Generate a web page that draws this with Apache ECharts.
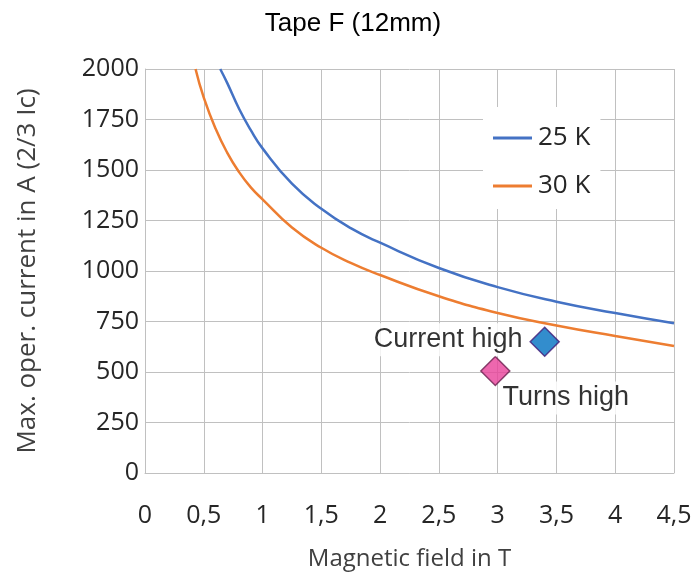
<!DOCTYPE html>
<html>
<head>
<meta charset="utf-8">
<script src="https://cdn.jsdelivr.net/npm/echarts@6/dist/echarts.min.js"></script>
<style>
  html, body { margin: 0; padding: 0; background: #fff; }
  #chart { width: 696px; height: 577px; }
</style>
</head>
<body>
<div id="chart"></div>
<script>
// magnetic field (T) and operating current (A)
const field25 = [0.64, 0.7, 0.8, 0.9, 1.0, 1.25, 1.5, 1.75, 2.0, 2.5, 3.0, 3.5, 4.0, 4.5];
const current25 = [2000, 1930, 1803, 1697, 1607, 1432, 1308, 1212, 1140, 1015, 920, 848, 792, 741];
const field30 = [0.43, 0.5, 0.6, 0.7, 0.8, 0.9, 1.0, 1.25, 1.5, 1.75, 2.0, 2.5, 3.0, 3.5, 4.0, 4.5];
const current30 = [2000, 1858, 1705, 1585, 1490, 1414, 1355, 1215, 1115, 1040, 980, 875, 792, 730, 678, 629];
const currentHigh = [3.4, 650];
const turnsHigh = [2.98, 505];
const seriesNames = ["25 K", "30 K"];

const axisFont = "'Open Sans', sans-serif";
const gridColor = "#c0c0c0";

const chart = echarts.init(document.getElementById("chart"));

const toPairs = (xs, ys) => xs.map((x, i) => [x, ys[i]]);

chart.setOption({
  animation: false,
  title: {
    text: "Tape F (12mm)",
    left: 348,
    textAlign: "center",
    top: 6,
    textStyle: {
      fontFamily: "'Liberation Sans', Arial, sans-serif",
      fontSize: 26,
      fontWeight: "normal",
      color: "#000",
    },
  },
  grid: {
    left: 145,
    right: 22,
    top: 69,
    bottom: 104,
  },
  legend: {
    data: seriesNames,
    orient: "vertical",
    left: 483,
    top: 107,
    backgroundColor: "#fff",
    padding: [18, 10, 10, 10],
    itemGap: 22,
    icon: "rect",
    itemWidth: 39,
    itemHeight: 3,
    textStyle: {
      fontFamily: axisFont,
      fontSize: 26,
      color: "#262626",
      padding: [0, 0, 0, 1],
    },
  },
  xAxis: {
    type: "value",
    min: 0,
    max: 4.5,
    interval: 0.5,
    name: "Magnetic field in T",
    nameLocation: "middle",
    nameGap: 74,
    nameTextStyle: {
      fontFamily: axisFont,
      fontSize: 24,
      color: "#404040",
    },
    axisLine: { show: true, lineStyle: { color: gridColor } },
    axisTick: { show: false },
    axisLabel: {
      margin: 30,
      fontFamily: axisFont,
      fontSize: 25,
      color: "#262626",
      formatter: (v) => String(v).replace(".", ","),
    },
    splitLine: { show: true, lineStyle: { color: gridColor } },
  },
  yAxis: {
    type: "value",
    min: 0,
    max: 2000,
    interval: 250,
    name: "Max. oper. current in A (2/3 Ic)",
    nameLocation: "middle",
    nameGap: 104,
    nameTextStyle: {
      fontFamily: axisFont,
      fontSize: 26,
      color: "#404040",
    },
    axisLine: { show: true, lineStyle: { color: gridColor } },
    axisTick: { show: false },
    axisLabel: {
      margin: 6,
      fontFamily: axisFont,
      fontSize: 25,
      color: "#262626",
      formatter: (v) => String(v),
    },
    splitLine: { show: true, lineStyle: { color: gridColor } },
  },
  series: [
    {
      name: seriesNames[0],
      type: "line",
      smooth: true,
      symbol: "none",
      data: toPairs(field25, current25),
      lineStyle: { color: "#4472c4", width: 2.5 },
      itemStyle: { color: "#4472c4" },
    },
    {
      name: seriesNames[1],
      type: "line",
      smooth: true,
      symbol: "none",
      data: toPairs(field30, current30),
      lineStyle: { color: "#ed7d31", width: 2.5 },
      itemStyle: { color: "#ed7d31" },
    },
    {
      name: "Current high",
      type: "scatter",
      symbol: "diamond",
      symbolSize: 29,
      data: [currentHigh],
      itemStyle: { color: "#0070c0", borderColor: "#3f1a78", borderWidth: 1.5 },
      label: {
        show: true,
        position: "left",
        distance: 5,
        formatter: "Current high",
        fontFamily: "'Liberation Sans', Arial, sans-serif",
        fontSize: 27,
        color: "#000",
        backgroundColor: "#fff",
        padding: [3, 2, 3, 2],
        offset: [0, -2],
      },
      z: 5,
    },
    {
      name: "Turns high",
      type: "scatter",
      symbol: "diamond",
      symbolSize: 29,
      data: [turnsHigh],
      itemStyle: { color: "#e8419a", borderColor: "#6b1f4f", borderWidth: 1.5 },
      label: {
        show: true,
        position: "right",
        distance: 0,
        formatter: "Turns high",
        fontFamily: "'Liberation Sans', Arial, sans-serif",
        fontSize: 27,
        color: "#000",
        backgroundColor: "#fff",
        padding: [3, 2, 3, 2],
        offset: [-10, 27],
      },
      z: 5,
    },
  ],
});
</script>
</body>
</html>
